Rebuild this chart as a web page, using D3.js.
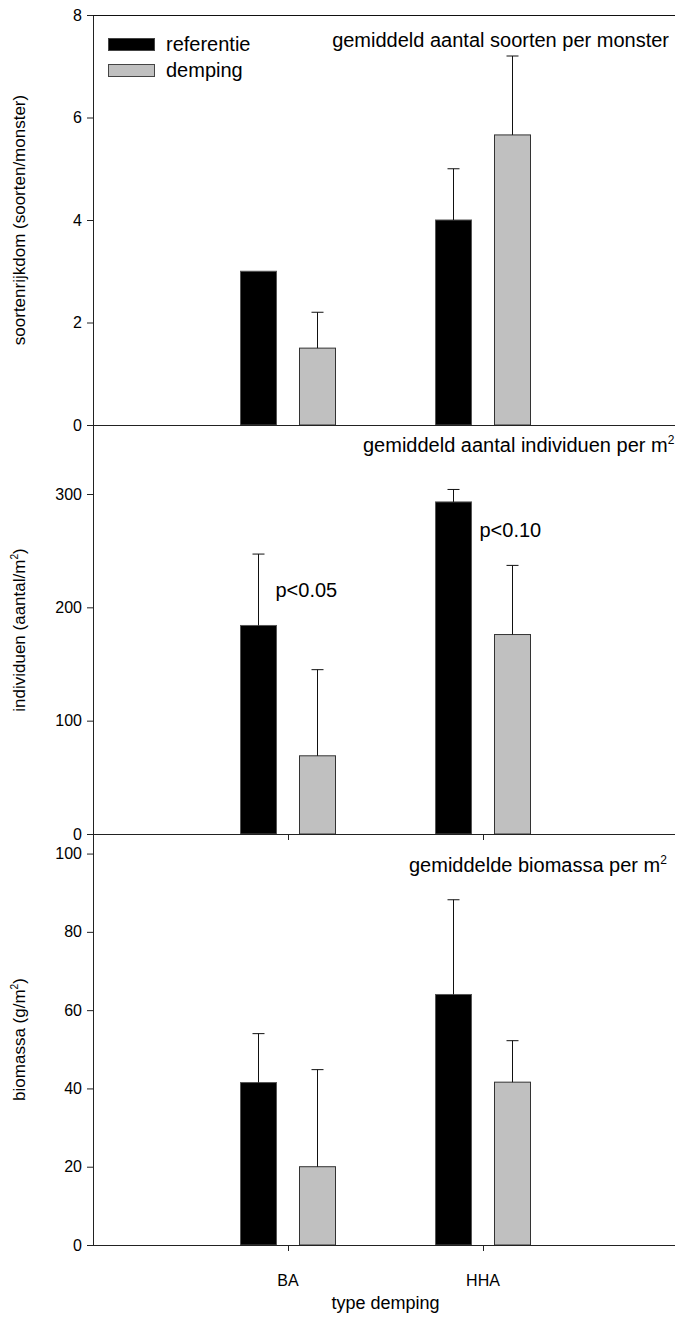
<!DOCTYPE html>
<html>
<head>
<meta charset="utf-8">
<script src="https://cdn.jsdelivr.net/npm/d3@7"></script>
<style>
  html, body { margin: 0; padding: 0; background: #fff; }
  svg { display: block; font-family: "Liberation Sans", Arial, sans-serif; }
</style>
</head>
<body>
<svg id="chart" width="675" height="1318"></svg>
<script>
// Categories and series
const categories = ["BA", "HHA"];
const series = ["referentie", "demping"];
const seriesFill = ["#000000", "#c0c0c0"];

// Panel 1: species per sample
const soortenRef = [3.0, 4.0];
const soortenRefSE = [0, 1.0];
const soortenDem = [1.5, 5.66];
const soortenDemSE = [0.7, 1.54];
const soortenTicks = [0, 2, 4, 6, 8];

// Panel 2: individuals per m2
const individuenRef = [184, 293];
const individuenRefSE = [63, 11];
const individuenDem = [69, 176];
const individuenDemSE = [76, 61];
const individuenTicks = [0, 100, 200, 300];

// Panel 3: biomass per m2
const biomassaRef = [41.5, 64];
const biomassaRefSE = [12.5, 24.2];
const biomassaDem = [20, 41.6];
const biomassaDemSE = [24.8, 10.6];
const biomassaTicks = [0, 20, 40, 60, 80, 100];

// Significance labels (panel 2)
const pLabels = ["p<0.05", "p<0.10"];
const pLabelY = [209, 262];

const svg = d3.select("#chart");
const left = 93, right = 678;

const x = d3.scalePoint().domain(categories).range([left, right]).padding(1);
const xs = d3.scaleBand().domain(series).range([-47.5, 47.5]).paddingInner(23 / 59);

const panels = [
  {
    ref: soortenRef, refSE: soortenRefSE, dem: soortenDem, demSE: soortenDemSE,
    y: d3.scaleLinear().domain([0, 8]).range([425, 15]),
    ticks: soortenTicks, xTicks: false, topLine: true,
    title: ["gemiddeld aantal soorten per monster", ""], titleX: 669, titleAnchor: "end", titleY: 47,
    ylab: ["soortenrijkdom (soorten/monster)", "", ""]
  },
  {
    ref: individuenRef, refSE: individuenRefSE, dem: individuenDem, demSE: individuenDemSE,
    y: d3.scaleLinear().domain([0, 360]).range([834, 426]),
    ticks: individuenTicks, xTicks: true, topLine: false,
    title: ["gemiddeld aantal individuen per m", "2"], titleX: 363, titleAnchor: "start", titleY: 452,
    ylab: ["individuen (aantal/m", "2", ")"]
  },
  {
    ref: biomassaRef, refSE: biomassaRefSE, dem: biomassaDem, demSE: biomassaDemSE,
    y: d3.scaleLinear().domain([0, 105]).range([1245, 834]),
    ticks: biomassaTicks, xTicks: true, topLine: false,
    title: ["gemiddelde biomassa per m", "2"], titleX: 409, titleAnchor: "start", titleY: 872,
    ylab: ["biomassa (g/m", "2", ")"]
  }
];

const tickFont = 16, labelFont = 17, titleFont = 20;

panels.forEach((p, pi) => {
  const g = svg.append("g");
  const y = p.y;
  const [y0, y1] = y.range();

  // y axis
  const yAxis = g.append("g")
    .attr("transform", `translate(${left},0)`)
    .call(d3.axisLeft(y).tickValues(p.ticks).tickSize(6).tickPadding(5).tickFormat(d3.format("d")));
  yAxis.select(".domain").remove();
  yAxis.selectAll(".tick line").attr("stroke", "#222");
  yAxis.selectAll(".tick text").attr("font-size", tickFont).attr("fill", "#000")
    .attr("font-family", "Liberation Sans, Arial, sans-serif");
  g.append("line").attr("x1", left + 0.5).attr("x2", left + 0.5)
    .attr("y1", y1).attr("y2", y0).attr("stroke", "#222");

  // x axis
  if (p.xTicks) {
    const xAxis = g.append("g").attr("transform", `translate(0,${y0})`)
      .call(d3.axisBottom(x).tickSize(6).tickFormat(""));
    xAxis.select(".domain").remove();
    xAxis.selectAll(".tick line").attr("stroke", "#222");
  }

  // bars
  const rows = [];
  categories.forEach((c, i) => {
    rows.push({ cat: c, s: series[0], v: p.ref[i], se: p.refSE[i], fill: seriesFill[0] });
    rows.push({ cat: c, s: series[1], v: p.dem[i], se: p.demSE[i], fill: seriesFill[1] });
  });

  g.selectAll("rect.bar").data(rows).join("rect")
    .attr("class", "bar")
    .attr("x", d => x(d.cat) + xs(d.s))
    .attr("width", xs.bandwidth())
    .attr("y", d => y(d.v))
    .attr("height", d => y(0) - y(d.v))
    .attr("fill", d => d.fill)
    .attr("stroke", d => d.s === series[0] ? "#555" : "#333")
    .attr("stroke-width", 1);

  // upper error bars
  const eb = g.selectAll("g.err").data(rows.filter(d => d.se > 0)).join("g").attr("class", "err");
  eb.append("line")
    .attr("x1", d => x(d.cat) + xs(d.s) + xs.bandwidth() / 2)
    .attr("x2", d => x(d.cat) + xs(d.s) + xs.bandwidth() / 2)
    .attr("y1", d => y(d.v)).attr("y2", d => y(d.v + d.se))
    .attr("stroke", "#111");
  eb.append("line")
    .attr("x1", d => x(d.cat) + xs(d.s) + xs.bandwidth() / 2 - 6)
    .attr("x2", d => x(d.cat) + xs(d.s) + xs.bandwidth() / 2 + 6)
    .attr("y1", d => y(d.v + d.se)).attr("y2", d => y(d.v + d.se))
    .attr("stroke", "#111");

  // baseline
  g.append("line").attr("x1", left).attr("x2", right)
    .attr("y1", y0 + 0.5).attr("y2", y0 + 0.5).attr("stroke", "#222");
  if (p.topLine) {
    g.append("line").attr("x1", left).attr("x2", right)
      .attr("y1", y1 + 0.5).attr("y2", y1 + 0.5).attr("stroke", "#111");
  }

  // panel title
  const t = g.append("text").attr("x", p.titleX).attr("y", p.titleY)
    .attr("text-anchor", p.titleAnchor).attr("font-size", titleFont).attr("fill", "#000");
  t.append("tspan").text(p.title[0]);
  if (p.title[1]) t.append("tspan").attr("font-size", titleFont * 0.6).attr("dy", -8).text(p.title[1]);

  // y label
  const yl = g.append("text")
    .attr("transform", `translate(25,${(y0 + y1) / 2}) rotate(-90)`)
    .attr("text-anchor", "middle").attr("font-size", labelFont).attr("fill", "#000");
  yl.append("tspan").text(p.ylab[0]);
  if (p.ylab[1]) {
    yl.append("tspan").attr("font-size", labelFont * 0.6).attr("dy", -7).text(p.ylab[1]);
    yl.append("tspan").attr("dy", 7).text(p.ylab[2]);
  }

  // significance labels on panel 2
  if (pi === 1) {
    g.selectAll("text.plab").data(categories).join("text")
      .attr("class", "plab")
      .attr("x", (c, i) => x(c) + xs(series[0]) + xs.bandwidth() + (i === 0 ? -1 : 8))
      .attr("y", (c, i) => y(pLabelY[i]))
      .attr("font-size", titleFont).attr("fill", "#000")
      .text((c, i) => pLabels[i]);
  }
});

// x tick labels and x title under the bottom panel
svg.append("g").selectAll("text").data(categories).join("text")
  .attr("x", d => x(d)).attr("y", 1286)
  .attr("text-anchor", "middle").attr("font-size", tickFont).attr("fill", "#000")
  .text(d => d);

svg.append("text").attr("x", (left + right) / 2).attr("y", 1309)
  .attr("text-anchor", "middle").attr("font-size", 18).attr("fill", "#000")
  .text("type demping");

// legend
const legend = svg.append("g");
series.forEach((s, i) => {
  legend.append("rect").attr("x", 108.5).attr("y", 38.5 + i * 26).attr("width", 46).attr("height", 12)
    .attr("fill", seriesFill[i]).attr("stroke", "#444");
  legend.append("text").attr("x", 166).attr("y", 51 + i * 26)
    .attr("font-size", titleFont).attr("fill", "#000").text(s);
});
</script>
</body>
</html>
